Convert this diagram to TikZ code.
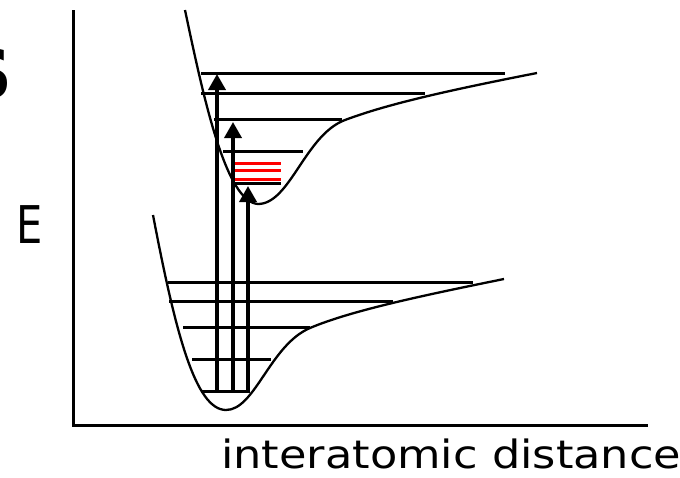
\documentclass[tikz,border=0pt]{standalone}
\usepackage{fontspec}
\setmainfont{DejaVu Sans}
\usetikzlibrary{arrows.meta}
\tikzset{
  curve/.style={line width=2.3pt, line join=round},
  level/.style={line width=3pt},
  redlevel/.style={line width=3pt, red},
  axis/.style={line width=3pt},
  trans/.style={line width=3.6pt, -{Triangle[width=17pt,length=16pt]}},
  lbl/.style={inner sep=0pt, anchor=base}
}
\begin{document}
\begin{tikzpicture}[x=1pt,y=-1pt]
\useasboundingbox (0,0) rectangle (680,477);
\clip (0,0) rectangle (680,477);
% axes
\coordinate (ytop) at (73,10);
\coordinate (orig) at (73,425);
\coordinate (xend) at (648,425);
\draw[axis] (ytop) -- (orig) -- (xend);
% labels
\node[lbl, anchor=base east] (title) at (13,98) {\fontsize{68}{68}\selectfont\bfseries S};
\node[lbl, anchor=base west] (E) at (16,243) {\scalebox{0.8}[1]{\fontsize{52}{52}\selectfont E}};
\node[lbl, anchor=base west] (xl) at (221,468) {\scalebox{1.145}[1]{\fontsize{39}{39}\selectfont interatomic distance}};
% upper curve
\draw[curve] (185,10) .. controls (204,100) and (226,202) .. (258,204)
  .. controls (290,204) and (305,135) .. (345,120)
  .. controls (385,105) and (440,92) .. (537,73);
% lower curve
\draw[curve] (153,215) .. controls (175,330) and (195,410) .. (226,410)
  .. controls (255,410) and (270,345) .. (310,328)
  .. controls (350,311) and (420,296) .. (504,279);
% upper levels
\draw[level] (201,73) -- (505,73);
\draw[level] (201,93) -- (425,93);
\draw[level] (214,119) -- (342,119);
\draw[level] (223,151) -- (303,151);
\draw[level] (233,183) -- (281,183);
\draw[redlevel] (233,163) -- (281,163);
\draw[redlevel] (233,170) -- (281,170);
\draw[redlevel] (233,179) -- (281,179);
% lower levels
\draw[level] (168,282) -- (473,282);
\draw[level] (169,301) -- (393,301);
\draw[level] (183,327) -- (310,327);
\draw[level] (192,359) -- (271,359);
\draw[level] (201,391) -- (250,391);
% transitions
\coordinate (a1s) at (217,391); \coordinate (a1e) at (217,74);
\coordinate (a2s) at (233,391); \coordinate (a2e) at (233,122);
\coordinate (a3s) at (248,391); \coordinate (a3e) at (248,186);
\draw[trans] (a1s) -- (a1e);
\draw[trans] (a2s) -- (a2e);
\draw[trans] (a3s) -- (a3e);
\end{tikzpicture}
\end{document}
